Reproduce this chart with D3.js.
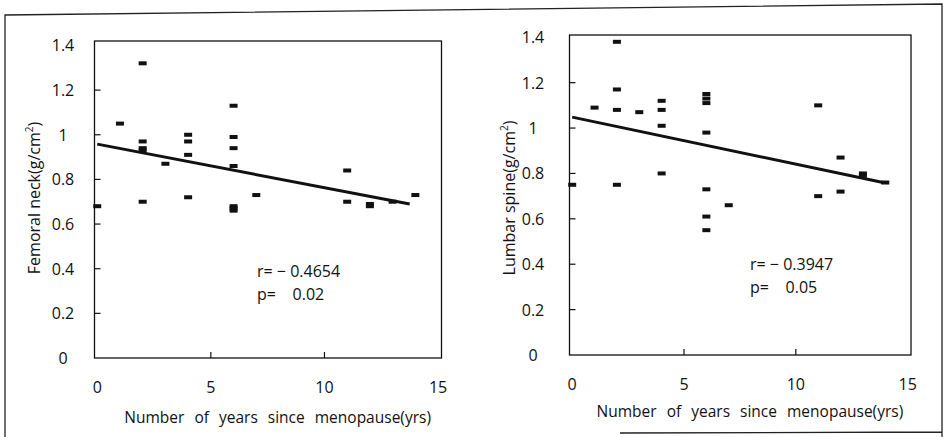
<!DOCTYPE html>
<html>
<head>
<meta charset="utf-8">
<script src="https://cdn.jsdelivr.net/npm/d3@7"></script>
<style>
  body { margin: 0; background: #fff; }
  svg text { font-family: "Open Sans", Lato, sans-serif; fill: #111; }
</style>
</head>
<body>
<div id="chart"></div>
<script>
// years since menopause + BMD
var neckYears = [0, 1, 2, 2, 2, 2, 2, 3, 4, 4, 4, 4, 6, 6, 6, 6, 6, 6, 6, 7, 11, 11, 12, 12, 13, 14];
var neckBmd   = [0.68, 1.05, 1.32, 0.97, 0.94, 0.93, 0.70, 0.87, 1.00, 0.97, 0.91, 0.72, 1.13, 0.99, 0.94, 0.86, 0.68, 0.67, 0.66, 0.73, 0.84, 0.70, 0.69, 0.68, 0.70, 0.73];
var neckFit   = [[0, 0.958], [13.75, 0.69]];
var neckStats = ["r= \u2212 0.4654", "p=    0.02"];

var spineYears = [0, 1, 2, 2, 2, 2, 3, 4, 4, 4, 4, 6, 6, 6, 6, 6, 6, 6, 7, 11, 11, 12, 12, 13, 13, 14];
var spineBmd   = [0.75, 1.09, 1.38, 1.17, 1.08, 0.75, 1.07, 1.12, 1.08, 1.01, 0.80, 1.15, 1.13, 1.11, 0.98, 0.73, 0.61, 0.55, 0.66, 1.10, 0.70, 0.87, 0.72, 0.80, 0.79, 0.76];
var spineFit   = [[0, 1.048], [13.9, 0.76]];
var spineStats = ["r= \u2212 0.3947", "p=    0.05"];

var yTicks = [0, 0.2, 0.4, 0.6, 0.8, 1, 1.2, 1.4];
var xTicks = [0, 5, 10, 15];
var xTitle = "Number of years since menopause(yrs)";

var W = 944, H = 437;
var svg = d3.select("#chart").append("svg").attr("width", W).attr("height", H);

// scanned frame (slightly skewed)
svg.append("path")
    .attr("d", "M5,437 L5,15 L942,4 L942,437 M620,433 L942,432")
    .attr("fill", "none").attr("stroke", "#222").attr("stroke-width", 1.3);

function panel(opt) {
    var x = d3.scaleLinear().domain([-0.12, 15.15]).range(opt.xr);
    var y = d3.scaleLinear().domain([0, opt.ymax]).range(opt.yr);
    var g = svg.append("g");

    g.append("rect")
        .attr("x", x(-0.12)).attr("y", y(opt.ymax))
        .attr("width", x(15.15) - x(-0.12)).attr("height", y(0) - y(opt.ymax))
        .attr("fill", "none").attr("stroke", "#111").attr("stroke-width", 1.3);

    // inward ticks on y
    g.selectAll(".yt").data(yTicks.slice(1, -1)).enter().append("line")
        .attr("x1", x(-0.12)).attr("x2", x(-0.12) + 6)
        .attr("y1", d => y(d)).attr("y2", d => y(d))
        .attr("stroke", "#111").attr("stroke-width", 1.2);
    g.selectAll(".ytl").data(yTicks).enter().append("text")
        .attr("x", opt.yLabX).attr("y", d => y(d) + 6)
        .attr("text-anchor", "middle").style("font-size", "16px")
        .text(d => d3.format("~g")(d));

    // inward ticks on x
    g.selectAll(".xt").data(xTicks.slice(1, -1)).enter().append("line")
        .attr("x1", d => x(d)).attr("x2", d => x(d))
        .attr("y1", y(0)).attr("y2", y(0) - 6)
        .attr("stroke", "#111").attr("stroke-width", 1.2);
    g.selectAll(".xtl").data(xTicks).enter().append("text")
        .attr("x", d => x(d)).attr("y", y(0) + 35)
        .attr("text-anchor", "middle").style("font-size", "16px")
        .text(d => d);

    g.append("text")
        .attr("transform", "translate(" + opt.titleX + "," + opt.titleYc + ") rotate(-90)")
        .attr("text-anchor", "middle").style("font-size", "16px")
        .html(opt.yTitle);

    g.append("text")
        .attr("x", (x(0) + x(15)) / 2 + 10).attr("y", opt.xTitleY)
        .attr("text-anchor", "middle").style("font-size", "15.5px").style("word-spacing", "6px")
        .text(xTitle);

    var line = d3.line().x(d => x(d[0])).y(d => y(d[1]));
    g.append("path").attr("d", line(opt.fit))
        .attr("fill", "none").attr("stroke", "#111").attr("stroke-width", 3);

    g.selectAll(".pt").data(opt.xs).enter().append("rect")
        .attr("x", d => x(d) - 4).attr("y", (d, i) => y(opt.ys[i]) - 2)
        .attr("width", 8).attr("height", 4).attr("fill", "#111");

    g.selectAll(".st").data(opt.stats).enter().append("text")
        .attr("x", opt.statX).attr("y", (d, i) => opt.statY + i * 23)
        .style("font-size", "16px").style("white-space", "pre")
        .text(d => d);
}

panel({
    xr: [94.5, 441.5], yr: [358, 41], ymax: 1.42,
    xs: neckYears, ys: neckBmd, fit: neckFit, stats: neckStats,
    yLabX: 63, titleX: 40, titleYc: 198, xTitleY: 423,
    yTitle: "Femoral neck(g/cm<tspan dy='-7' font-size='10'>2</tspan><tspan dy='7'>)</tspan>",
    statX: 257, statY: 277
});

panel({
    xr: [569.5, 911], yr: [355, 35], ymax: 1.41,
    xs: spineYears, ys: spineBmd, fit: spineFit, stats: spineStats,
    yLabX: 533, titleX: 515, titleYc: 198, xTitleY: 417,
    yTitle: "Lumbar spine(g/cm<tspan dy='-7' font-size='10'>2</tspan><tspan dy='7'>)</tspan>",
    statX: 750, statY: 270
});
</script>
</body>
</html>
